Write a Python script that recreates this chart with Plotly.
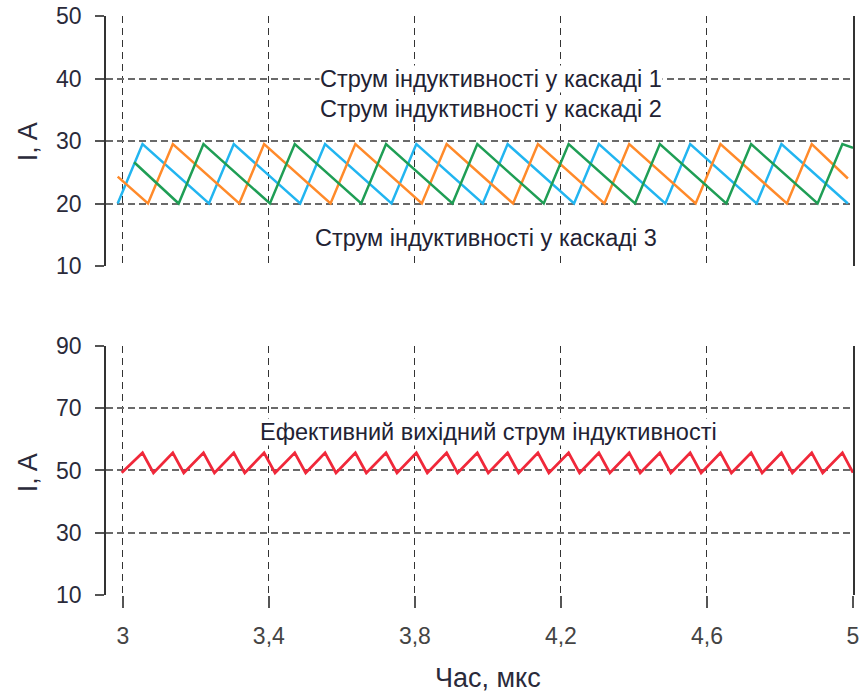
import plotly.graph_objects as go

# ---- data (vertex points of the waveforms) ----
blue_t = [2.986, 3.054, 3.236, 3.304, 3.486, 3.554, 3.736, 3.804, 3.986,
          4.054, 4.236, 4.304, 4.486, 4.554, 4.736, 4.804, 4.986]
blue_i = [20, 29.5, 20, 29.5, 20, 29.5, 20, 29.5, 20,
          29.5, 20, 29.5, 20, 29.5, 20, 29.5, 20]

orange_t = [2.986, 3.069, 3.137, 3.319, 3.387, 3.569, 3.637, 3.819, 3.887,
            4.069, 4.137, 4.319, 4.387, 4.569, 4.637, 4.819, 4.887, 4.986]
orange_i = [24.3, 20, 29.5, 20, 29.5, 20, 29.5, 20, 29.5,
            20, 29.5, 20, 29.5, 20, 29.5, 20, 29.5, 24.0]

green_t = [3.031, 3.153, 3.221, 3.403, 3.471, 3.653, 3.721, 3.903, 3.971,
           4.153, 4.221, 4.403, 4.471, 4.653, 4.721, 4.903, 4.971, 5.0]
green_i = [26.6, 20, 29.5, 20, 29.5, 20, 29.5, 20, 29.5,
           20, 29.5, 20, 29.5, 20, 29.5, 20, 29.5, 28.9]

red_t = [2.997, 3.054, 3.084, 3.137, 3.167, 3.221, 3.251, 3.304, 3.334,
         3.387, 3.417, 3.471, 3.501, 3.554, 3.584, 3.637, 3.667, 3.721,
         3.751, 3.804, 3.834, 3.887, 3.917, 3.971, 4.001, 4.054, 4.084,
         4.137, 4.167, 4.221, 4.251, 4.304, 4.334, 4.387, 4.417, 4.471,
         4.501, 4.554, 4.584, 4.637, 4.667, 4.721, 4.751, 4.804, 4.834,
         4.887, 4.917, 4.971, 5.0]
red_i = [49.3, 55.7, 49.2, 55.7, 49.2, 55.7, 49.2, 55.7, 49.2,
         55.7, 49.2, 55.7, 49.2, 55.7, 49.2, 55.7, 49.2, 55.7,
         49.2, 55.7, 49.2, 55.7, 49.2, 55.7, 49.2, 55.7, 49.2,
         55.7, 49.2, 55.7, 49.2, 55.7, 49.2, 55.7, 49.2, 55.7,
         49.2, 55.7, 49.2, 55.7, 49.2, 55.7, 49.2, 55.7, 49.2,
         55.7, 49.2, 55.7, 49.3]

x_ticks = [3, 3.4, 3.8, 4.2, 4.6, 5]
x_ticktext = ["3", "3,4", "3,8", "4,2", "4,6", "5"]
y_top_ticks = [10, 20, 30, 40, 50]
y_bot_ticks = [10, 30, 50, 70, 90]

label_1 = "Струм індуктивності у каскаді 1"
label_2 = "Струм індуктивності у каскаді 2"
label_3 = "Струм індуктивності у каскаді 3"
label_out = "Ефективний вихідний струм індуктивності"
y_title = "I, A"
x_title = "Час, мкс"

FONT = "Liberation Sans, Arial, sans-serif"
C_BLUE = "#22b5f0"
C_ORANGE = "#ff8a2a"
C_GREEN = "#1f9e55"
C_RED = "#f0283a"

fig = go.Figure()
lw = 2.5
fig.add_trace(go.Scatter(x=blue_t, y=blue_i, mode="lines", line=dict(color=C_BLUE, width=lw), xaxis="x", yaxis="y"))
fig.add_trace(go.Scatter(x=orange_t, y=orange_i, mode="lines", line=dict(color=C_ORANGE, width=lw), xaxis="x", yaxis="y"))
fig.add_trace(go.Scatter(x=green_t, y=green_i, mode="lines", line=dict(color=C_GREEN, width=lw), xaxis="x", yaxis="y"))
fig.add_trace(go.Scatter(x=red_t, y=red_i, mode="lines", line=dict(color=C_RED, width=2.8), xaxis="x2", yaxis="y2"))

xcommon = dict(range=[2.954, 5.0], tickmode="array", tickvals=x_ticks, ticktext=x_ticktext,
               showgrid=True, gridcolor="#333333", gridwidth=1.4, griddash="7px,5px",
               zeroline=False, showline=False, automargin=False, ticklabeloverflow="allow")
ycommon = dict(showgrid=True, gridcolor="#6a6a6a", gridwidth=2, griddash="7px,4px",
               zeroline=False, showline=True, linecolor="#333333", linewidth=1.6, mirror=True,
               ticks="outside", ticklen=9, tickwidth=1.5, tickcolor="#555555",
               tickfont=dict(family=FONT, size=23, color="#2a2a3a"), ticklabelstandoff=9,
               automargin=False)

fig.update_layout(
    width=859, height=693,
    autosize=False,
    margin=dict(l=106, r=6, t=16, b=98, autoexpand=False),
    paper_bgcolor="white", plot_bgcolor="white",
    showlegend=False,
    font=dict(family=FONT),
    xaxis=dict(xcommon, domain=[0, 1], anchor="y", showticklabels=False, ticks="", matches="x2"),
    yaxis=dict(ycommon, domain=[0.5682, 1], range=[10, 50], tickvals=y_top_ticks, anchor="x"),
    xaxis2=dict(xcommon, domain=[0, 1], anchor="y2", ticks="outside", ticklen=12, tickwidth=1.5,
                tickcolor="#555555", tickfont=dict(family=FONT, size=23, color="#444444"),
                ticklabelstandoff=8),
    yaxis2=dict(ycommon, domain=[0, 0.4301], range=[10, 90], tickvals=y_bot_ticks, anchor="x2"),
)

ann_font = dict(family=FONT, size=23.5, color="#222233")
fig.add_annotation(x=4.009, y=40, xref="x", yref="y", text=label_1, showarrow=False,
                   font=ann_font, bgcolor="white", borderpad=0)
fig.add_annotation(x=4.009, y=35.2, xref="x", yref="y", text=label_2, showarrow=False,
                   font=ann_font, bgcolor="white", borderpad=0)
fig.add_annotation(x=3.996, y=14.5, xref="x", yref="y", text=label_3, showarrow=False,
                   font=ann_font, bgcolor="white", borderpad=0)
fig.add_annotation(x=4.002, y=62.4, xref="x2", yref="y2", text=label_out, showarrow=False,
                   font=ann_font, bgcolor="white", borderpad=0)

title_font = dict(family=FONT, size=27, color="#2a2a3a")
fig.add_annotation(x=-0.104, y=0.7824, xref="paper", yref="paper", text=y_title, textangle=-90,
                   showarrow=False, font=title_font, xanchor="center", yanchor="middle")
fig.add_annotation(x=-0.104, y=0.2107, xref="paper", yref="paper", text=y_title, textangle=-90,
                   showarrow=False, font=title_font, xanchor="center", yanchor="middle")
fig.add_annotation(x=0.512, y=-0.1434, xref="paper", yref="paper", text=x_title,
                   showarrow=False, font=title_font, xanchor="center", yanchor="middle")

fig.write_html(
    "out.html",
    config={"displayModeBar": False, "responsive": False},
    post_script="document.body.style.margin='0';document.body.style.overflow='hidden';",
)
